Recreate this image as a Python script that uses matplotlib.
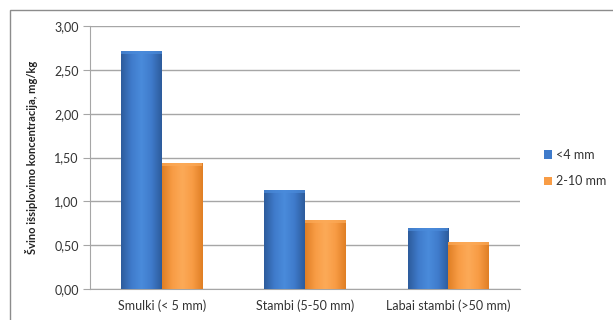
import numpy as np
import matplotlib.pyplot as plt
from matplotlib.patches import Rectangle
from matplotlib.colors import LinearSegmentedColormap

plt.rcParams['font.family'] = ['Lato', 'DejaVu Sans']

categories = ['Smulki (< 5 mm)', 'Stambi (5-50 mm)', 'Labai stambi (>50 mm)']
series_names = ['<4 mm', '2-10 mm']
values_small = [2.71, 1.13, 0.70]
values_large = [1.44, 0.79, 0.54]
y_ticks = [0.0, 0.5, 1.0, 1.5, 2.0, 2.5, 3.0]

blue = '#3F7BCB'
orange = '#F89C45'

fig = plt.figure(figsize=(6.13, 3.2), dpi=100)
ax = fig.add_axes([0.1468, 0.096, 0.7015, 0.823])

# outer chart border
fig.patches.append(Rectangle((10 / 613, -0.1), 1.1, 1 - 10 / 320 + 0.1,
                             transform=fig.transFigure, fill=False,
                             edgecolor='#8c8c8c', linewidth=1.0))

x = np.arange(len(categories))
w = 0.283

bars1 = ax.bar(x - w / 2, values_small, w, color=blue, label=series_names[0], zorder=3)
bars2 = ax.bar(x + w / 2, values_large, w, color=orange, label=series_names[1], zorder=3)

# bevel-like horizontal shading on the bars
def shade(bars, dark, mid, light):
    cmap = LinearSegmentedColormap.from_list('s', [dark, mid, light, mid, dark])
    grad = np.linspace(0, 1, 64).reshape(1, -1)
    for b in bars:
        x0, y0 = b.get_x(), b.get_y()
        bw, bh = b.get_width(), b.get_height()
        im = ax.imshow(grad, cmap=cmap, aspect='auto', extent=[x0, x0 + bw, y0, y0 + bh],
                       zorder=4, interpolation='bicubic')
        im.set_clip_path(b)
        # light top cap
        ax.add_patch(Rectangle((x0, y0 + bh - 0.035), bw, 0.035, color=light, alpha=0.7,
                               zorder=5, linewidth=0))

shade(bars1, '#2D5C9C', '#3F7BCB', '#4A8BDB')
shade(bars2, '#E07F25', '#F89C45', '#FCAA58')

ax.set_xlim(-0.5, 2.5)
ax.set_ylim(0, 3.0)
ax.set_yticks(y_ticks)
ax.set_yticklabels([f'{t:.2f}'.replace('.', ',') for t in y_ticks])
ax.set_xticks(x)
ax.set_xticklabels(categories)
ax.yaxis.grid(True, color='#a6a6a6', linewidth=1.0, zorder=0)
ax.set_axisbelow(True)

for s in ['top', 'right']:
    ax.spines[s].set_visible(False)
ax.spines['left'].set_color('#a6a6a6')
ax.spines['bottom'].set_color('#a6a6a6')
ax.tick_params(axis='y', length=5, color='#a6a6a6', labelsize=9, labelcolor='#333333', pad=3)
ax.tick_params(axis='x', length=0, labelsize=9, labelcolor='#333333', pad=7)

ax.set_ylabel('Švino išsiplovimo koncentracija, mg/kg', fontsize=8, fontweight='bold',
              color='#222222', labelpad=12)

leg = ax.legend(loc='center left', bbox_to_anchor=(1.055, 0.46), frameon=False, fontsize=9,
                handlelength=0.7, handleheight=0.7, handletextpad=0.3, labelspacing=1.15,
                borderpad=0, borderaxespad=0)
for t in leg.get_texts():
    t.set_color('#333333')

fig.savefig('out.png', dpi=100)
